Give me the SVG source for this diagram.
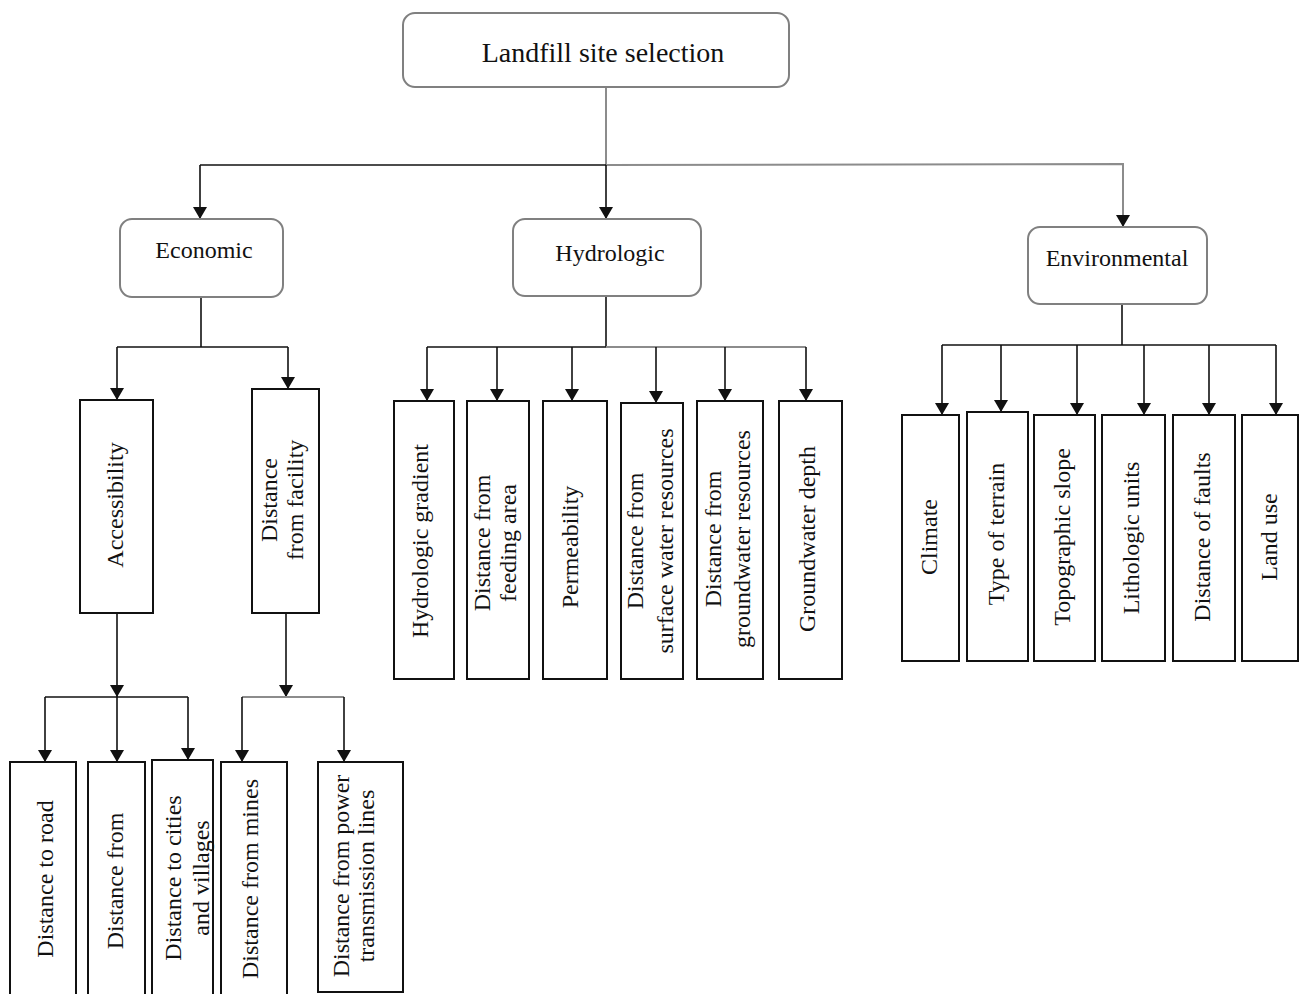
<svg xmlns="http://www.w3.org/2000/svg" width="1299" height="994" viewBox="0 0 1299 994">
<style>
.rn{fill:#fff;stroke:#808080;stroke-width:2}
.bx{fill:#fff;stroke:#111;stroke-width:2}
.t{font-family:"Liberation Serif","Times New Roman",serif;font-size:24px;fill:#111;text-anchor:middle}
.tt{font-size:28px}
.c{fill:none;stroke:#111;stroke-width:1.6}
.g{fill:none;stroke:#8c8c8c;stroke-width:2}
</style>
<defs>
<marker id="ah" markerUnits="userSpaceOnUse" markerWidth="12" markerHeight="14" viewBox="0 0 12 14" refX="12" refY="7" orient="auto">
<path d="M0,0 L12,7 L0,14 z" fill="#111"/>
</marker>
</defs>
<rect width="1299" height="994" fill="#fff"/>

<g id="connectors">
<!-- top level -->
<line class="g" x1="606" y1="87" x2="606" y2="165"/>
<line class="c" x1="200" y1="165" x2="606" y2="165"/>
<polyline class="g" points="606,165 1123,164 1123,227" marker-end="url(#ah)"/>
<line class="c" x1="200" y1="165" x2="200" y2="219" marker-end="url(#ah)"/>
<line class="c" x1="606" y1="165" x2="606" y2="219" marker-end="url(#ah)"/>
<!-- economic -->
<line class="c" x1="201" y1="297" x2="201" y2="347"/>
<line class="c" x1="117" y1="347" x2="288" y2="347"/>
<line class="c" x1="117" y1="347" x2="117" y2="400" marker-end="url(#ah)"/>
<line class="c" x1="288" y1="347" x2="288" y2="389" marker-end="url(#ah)"/>
<!-- accessibility -->
<line class="c" x1="117" y1="613" x2="117" y2="697" marker-end="url(#ah)"/>
<line class="c" x1="45" y1="697" x2="188" y2="697"/>
<line class="c" x1="45" y1="697" x2="45" y2="762" marker-end="url(#ah)"/>
<line class="c" x1="117" y1="697" x2="117" y2="762" marker-end="url(#ah)"/>
<line class="c" x1="188" y1="697" x2="188" y2="760" marker-end="url(#ah)"/>
<!-- distance from facility -->
<line class="c" x1="286" y1="613" x2="286" y2="697" marker-end="url(#ah)"/>
<line class="g" x1="242" y1="697" x2="344" y2="697"/>
<line class="c" x1="242" y1="697" x2="242" y2="762" marker-end="url(#ah)"/>
<line class="c" x1="344" y1="697" x2="344" y2="762" marker-end="url(#ah)"/>
<!-- hydrologic -->
<line class="c" x1="606" y1="296" x2="606" y2="347"/>
<line class="c" x1="427" y1="347" x2="606" y2="347"/>
<line class="g" x1="606" y1="347" x2="806" y2="347"/>
<line class="c" x1="427" y1="347" x2="427" y2="401" marker-end="url(#ah)"/>
<line class="c" x1="497" y1="347" x2="497" y2="401" marker-end="url(#ah)"/>
<line class="c" x1="572" y1="347" x2="572" y2="401" marker-end="url(#ah)"/>
<line class="c" x1="656" y1="347" x2="656" y2="403" marker-end="url(#ah)"/>
<line class="c" x1="725" y1="347" x2="725" y2="401" marker-end="url(#ah)"/>
<line class="c" x1="806" y1="347" x2="806" y2="401" marker-end="url(#ah)"/>
<!-- environmental -->
<line class="c" x1="1122" y1="304" x2="1122" y2="345"/>
<line class="c" x1="942" y1="345" x2="1276" y2="345"/>
<line class="c" x1="942" y1="345" x2="942" y2="415" marker-end="url(#ah)"/>
<line class="c" x1="1001" y1="345" x2="1001" y2="412" marker-end="url(#ah)"/>
<line class="c" x1="1077" y1="345" x2="1077" y2="415" marker-end="url(#ah)"/>
<line class="c" x1="1144" y1="345" x2="1144" y2="415" marker-end="url(#ah)"/>
<line class="c" x1="1209" y1="345" x2="1209" y2="415" marker-end="url(#ah)"/>
<line class="c" x1="1276" y1="345" x2="1276" y2="415" marker-end="url(#ah)"/>
</g>

<g id="root">
<rect class="rn" x="403" y="13" width="386" height="74" rx="12"/>
<text class="t tt" x="603" y="62">Landfill site selection</text>
</g>

<g id="economic">
<rect class="rn" x="120" y="219" width="163" height="78" rx="12"/>
<text class="t" x="204" y="258">Economic</text>
</g>
<g id="hydrologic">
<rect class="rn" x="513" y="219" width="188" height="77" rx="12"/>
<text class="t" x="610" y="261">Hydrologic</text>
</g>
<g id="environmental">
<rect class="rn" x="1028" y="227" width="179" height="77" rx="12"/>
<text class="t" x="1117" y="266">Environmental</text>
</g>

<g id="accessibility">
<rect class="bx" x="80" y="400" width="73" height="213"/>
<text class="t" transform="translate(123,505) rotate(-90)">Accessibility</text>
</g>
<g id="distance-facility">
<rect class="bx" x="252" y="389" width="67" height="224"/>
<text class="t" transform="translate(277,500) rotate(-90)"><tspan x="0" y="0">Distance</tspan><tspan x="0" y="26">from facility</tspan></text>
</g>

<g id="distance-road">
<rect class="bx" x="10" y="762" width="66" height="240"/>
<text class="t" transform="translate(53,879) rotate(-90)">Distance to road</text>
</g>
<g id="distance-from">
<rect class="bx" x="88" y="762" width="57" height="240"/>
<text class="t" transform="translate(123,881) rotate(-90)">Distance from</text>
</g>
<g id="distance-cities">
<rect class="bx" x="152" y="760" width="61" height="242"/>
<text class="t" transform="translate(181,878) rotate(-90)"><tspan x="0" y="0">Distance to cities</tspan><tspan x="0" y="28">and villages</tspan></text>
</g>
<g id="distance-mines">
<rect class="bx" x="221" y="762" width="66" height="240"/>
<text class="t" transform="translate(258,879) rotate(-90)">Distance from mines</text>
</g>
<g id="distance-power">
<rect class="bx" x="318" y="762" width="85" height="230"/>
<text class="t" transform="translate(349,876) rotate(-90)"><tspan x="0" y="0">Distance from power</tspan><tspan x="0" y="25">transmission lines</tspan></text>
</g>

<g id="hydrologic-gradient">
<rect class="bx" x="394" y="401" width="60" height="278"/>
<text class="t" transform="translate(428,541) rotate(-90)">Hydrologic gradient</text>
</g>
<g id="distance-feeding">
<rect class="bx" x="467" y="401" width="62" height="278"/>
<text class="t" transform="translate(490,543) rotate(-90)"><tspan x="0" y="0">Distance from</tspan><tspan x="0" y="26">feeding area</tspan></text>
</g>
<g id="permeability">
<rect class="bx" x="543" y="401" width="64" height="278"/>
<text class="t" transform="translate(578,547) rotate(-90)">Permeability</text>
</g>
<g id="distance-surface">
<rect class="bx" x="621" y="403" width="62" height="276"/>
<text class="t" transform="translate(643,541) rotate(-90)"><tspan x="0" y="0">Distance from</tspan><tspan x="0" y="30">surface water resources</tspan></text>
</g>
<g id="distance-groundwater">
<rect class="bx" x="697" y="401" width="66" height="278"/>
<text class="t" transform="translate(721,539) rotate(-90)"><tspan x="0" y="0">Distance from</tspan><tspan x="0" y="29">groundwater resources</tspan></text>
</g>
<g id="groundwater-depth">
<rect class="bx" x="779" y="401" width="63" height="278"/>
<text class="t" transform="translate(815,539) rotate(-90)">Groundwater depth</text>
</g>

<g id="climate">
<rect class="bx" x="902" y="415" width="57" height="246"/>
<text class="t" transform="translate(937,537) rotate(-90)">Climate</text>
</g>
<g id="terrain">
<rect class="bx" x="967" y="412" width="61" height="249"/>
<text class="t" transform="translate(1004,534) rotate(-90)">Type of terrain</text>
</g>
<g id="slope">
<rect class="bx" x="1034" y="415" width="61" height="246"/>
<text class="t" transform="translate(1070,537) rotate(-90)">Topographic slope</text>
</g>
<g id="lithologic">
<rect class="bx" x="1102" y="415" width="63" height="246"/>
<text class="t" transform="translate(1139,538) rotate(-90)">Lithologic units</text>
</g>
<g id="faults">
<rect class="bx" x="1173" y="415" width="62" height="246"/>
<text class="t" transform="translate(1210,537) rotate(-90)">Distance of faults</text>
</g>
<g id="land-use">
<rect class="bx" x="1242" y="415" width="56" height="246"/>
<text class="t" transform="translate(1277,537) rotate(-90)">Land use</text>
</g>
</svg>
